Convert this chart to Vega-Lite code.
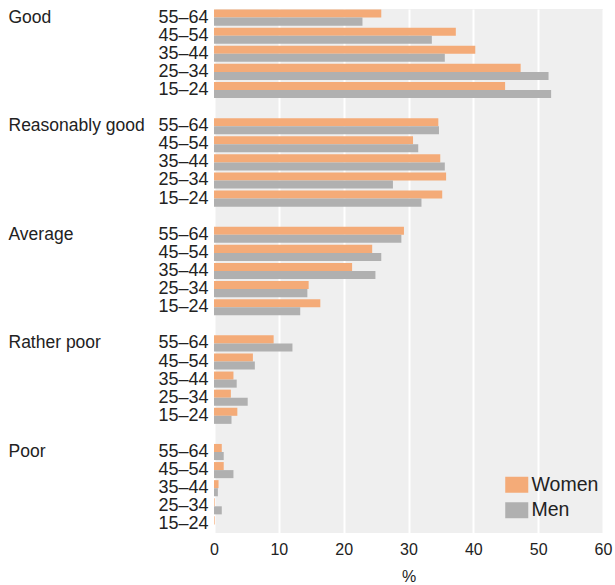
{
  "$schema": "https://vega.github.io/schema/vega-lite/v6.json",
  "autosize": {"type": "none"},
  "padding": {"left": 214, "top": 9, "right": 12, "bottom": 52},
  "width": 389,
  "height": 524,
  "background": "white",
  "config": {
    "view": {"fill": "#efefef", "stroke": null},
    "font": "Liberation Sans",
    "axis": {"labelColor": "#222222", "titleColor": "#222222", "labelFont": "Liberation Sans", "titleFont": "Liberation Sans", "titleFontWeight": "normal"},
    "legend": {"labelColor": "#222222", "labelFont": "Liberation Sans"}
  },
  "data": {
    "values": [
      {"key": "Good|55–64", "sex": "Women", "v": 25.8}, {"key": "Good|55–64", "sex": "Men", "v": 22.9},
      {"key": "Good|45–54", "sex": "Women", "v": 37.3}, {"key": "Good|45–54", "sex": "Men", "v": 33.6},
      {"key": "Good|35–44", "sex": "Women", "v": 40.3}, {"key": "Good|35–44", "sex": "Men", "v": 35.6},
      {"key": "Good|25–34", "sex": "Women", "v": 47.3}, {"key": "Good|25–34", "sex": "Men", "v": 51.6},
      {"key": "Good|15–24", "sex": "Women", "v": 44.9}, {"key": "Good|15–24", "sex": "Men", "v": 52.0},
      {"key": "Reasonably good|55–64", "sex": "Women", "v": 34.6}, {"key": "Reasonably good|55–64", "sex": "Men", "v": 34.7},
      {"key": "Reasonably good|45–54", "sex": "Women", "v": 30.7}, {"key": "Reasonably good|45–54", "sex": "Men", "v": 31.5},
      {"key": "Reasonably good|35–44", "sex": "Women", "v": 34.9}, {"key": "Reasonably good|35–44", "sex": "Men", "v": 35.6},
      {"key": "Reasonably good|25–34", "sex": "Women", "v": 35.8}, {"key": "Reasonably good|25–34", "sex": "Men", "v": 27.6},
      {"key": "Reasonably good|15–24", "sex": "Women", "v": 35.2}, {"key": "Reasonably good|15–24", "sex": "Men", "v": 32.0},
      {"key": "Average|55–64", "sex": "Women", "v": 29.3}, {"key": "Average|55–64", "sex": "Men", "v": 28.9},
      {"key": "Average|45–54", "sex": "Women", "v": 24.4}, {"key": "Average|45–54", "sex": "Men", "v": 25.8},
      {"key": "Average|35–44", "sex": "Women", "v": 21.3}, {"key": "Average|35–44", "sex": "Men", "v": 24.9},
      {"key": "Average|25–34", "sex": "Women", "v": 14.6}, {"key": "Average|25–34", "sex": "Men", "v": 14.4},
      {"key": "Average|15–24", "sex": "Women", "v": 16.4}, {"key": "Average|15–24", "sex": "Men", "v": 13.3},
      {"key": "Rather poor|55–64", "sex": "Women", "v": 9.2}, {"key": "Rather poor|55–64", "sex": "Men", "v": 12.1},
      {"key": "Rather poor|45–54", "sex": "Women", "v": 6.0}, {"key": "Rather poor|45–54", "sex": "Men", "v": 6.3},
      {"key": "Rather poor|35–44", "sex": "Women", "v": 3.0}, {"key": "Rather poor|35–44", "sex": "Men", "v": 3.5},
      {"key": "Rather poor|25–34", "sex": "Women", "v": 2.6}, {"key": "Rather poor|25–34", "sex": "Men", "v": 5.2},
      {"key": "Rather poor|15–24", "sex": "Women", "v": 3.6}, {"key": "Rather poor|15–24", "sex": "Men", "v": 2.7},
      {"key": "Poor|55–64", "sex": "Women", "v": 1.2}, {"key": "Poor|55–64", "sex": "Men", "v": 1.5},
      {"key": "Poor|45–54", "sex": "Women", "v": 1.5}, {"key": "Poor|45–54", "sex": "Men", "v": 3.0},
      {"key": "Poor|35–44", "sex": "Women", "v": 0.7}, {"key": "Poor|35–44", "sex": "Men", "v": 0.6},
      {"key": "Poor|25–34", "sex": "Women", "v": 0.1}, {"key": "Poor|25–34", "sex": "Men", "v": 1.2},
      {"key": "Poor|15–24", "sex": "Women", "v": 0.1}, {"key": "Poor|15–24", "sex": "Men", "v": 0.0}
    ]
  },
  "layer": [
    {
      "mark": {"type": "bar"},
      "encoding": {
        "y": {
          "field": "key", "type": "nominal",
          "scale": {
            "domain": ["Good|55–64", "Good|45–54", "Good|35–44", "Good|25–34", "Good|15–24", "gap1",
                       "Reasonably good|55–64", "Reasonably good|45–54", "Reasonably good|35–44", "Reasonably good|25–34", "Reasonably good|15–24", "gap2",
                       "Average|55–64", "Average|45–54", "Average|35–44", "Average|25–34", "Average|15–24", "gap3",
                       "Rather poor|55–64", "Rather poor|45–54", "Rather poor|35–44", "Rather poor|25–34", "Rather poor|15–24", "gap4",
                       "Poor|55–64", "Poor|45–54", "Poor|35–44", "Poor|25–34", "Poor|15–24"],
            "paddingInner": 0.11, "paddingOuter": 0.03
          },
          "axis": {
            "orient": "left", "title": null, "ticks": false, "domain": false, "grid": false,
            "labelFontSize": 18, "labelPadding": 6, "labelOverlap": false, "labelBaseline": "middle",
            "labelExpr": "indexof(datum.value, '|') > 0 ? split(datum.value, '|')[1] : ''"
          }
        },
        "yOffset": {"field": "sex", "type": "nominal", "scale": {"domain": ["Women", "Men"], "paddingInner": 0, "paddingOuter": 0}},
        "x": {
          "field": "v", "type": "quantitative",
          "scale": {"domain": [0, 60], "nice": false},
          "axis": {
            "title": "%", "values": [0, 10, 20, 30, 40, 50, 60], "grid": true, "gridColor": "white", "gridWidth": 2,
            "domain": false, "ticks": false, "labelFlush": false, "labelFontSize": 16, "labelPadding": 8, "titleFontSize": 16, "titlePadding": 11
          }
        },
        "color": {
          "field": "sex", "type": "nominal",
          "scale": {"domain": ["Women", "Men"], "range": ["#f4ab78", "#b0b0b0"]},
          "legend": {
            "title": null, "orient": "none", "legendX": 293, "legendY": 466,
            "symbolType": "M-1.44,-1H1.44V1H-1.44Z", "symbolSize": 256, "symbolStrokeWidth": 0,
            "labelFontSize": 19.5, "labelOffset": 5, "rowPadding": 4.5
          }
        }
      }
    },
    {
      "mark": {"type": "point", "opacity": 0},
      "encoding": {
        "y": {
          "field": "key", "type": "nominal",
          "axis": {
            "orient": "left", "title": null, "ticks": false, "domain": false, "grid": false,
            "labelFontSize": 17.5, "labelPadding": 206, "labelAlign": "left", "labelOverlap": false, "labelBaseline": "middle", "labelLimit": 200,
            "labelExpr": "indexof(datum.value, '55–64') > 0 ? split(datum.value, '|')[0] : ''"
          }
        },
        "x": {"field": "v", "type": "quantitative"}
      }
    }
  ],
  "resolve": {"axis": {"y": "independent"}}
}
